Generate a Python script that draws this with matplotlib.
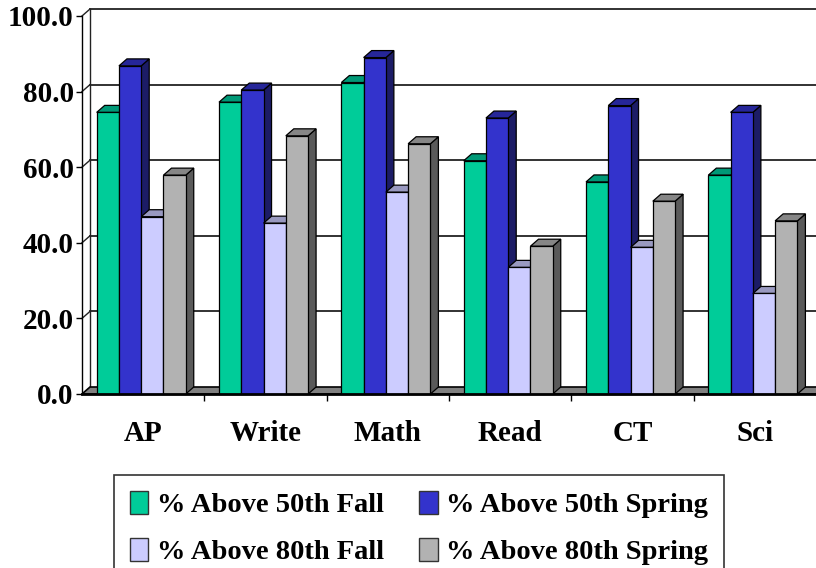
import matplotlib.pyplot as plt
from matplotlib.patches import Polygon, Patch

# datos
categorias = ["AP", "Write", "Math", "Read", "CT", "Sci"]
fall_50 = [74.5, 77.2, 82.4, 61.7, 56.1, 57.9]
spring_50 = [86.8, 80.4, 89.0, 73.0, 76.3, 74.5]
fall_80 = [46.9, 45.2, 53.4, 33.5, 38.8, 26.6]
spring_80 = [57.9, 68.3, 66.2, 39.1, 51.0, 45.8]
series = [fall_50, spring_50, fall_80, spring_80]
nombres = ["% Above 50th Fall", "% Above 50th Spring",
           "% Above 80th Fall", "% Above 80th Spring"]

# colores: frente, arriba, lado
colores = [("#00CC99", "#009977", "#008f6b"),
           ("#3333CC", "#262699", "#1c1c66"),
           ("#CCCCFF", "#9999C0", "#8f8fb2"),
           ("#B2B2B2", "#868686", "#5a5a5a")]

plt.rcParams["font.family"] = ["Liberation Serif", "DejaVu Serif"]
plt.rcParams["font.weight"] = "bold"

fig = plt.figure(figsize=(8.16, 5.68), dpi=100)
ax = fig.add_axes([82 / 816, 174 / 568, 734 / 816, 378 / 568])
ax.set_xlim(-0.5, 5.5)
ax.set_ylim(0, 100)

# profundidad del efecto 3D (en unidades de datos)
dx = 8 / 122.3
dy = 7 / 3.78

# pared del fondo y lateral con lineas de cuadricula
for v in range(20, 101, 20):
    ax.plot([-0.5 + dx, 5.5 + dx], [v + dy, v + dy], color="#222222", lw=1.3,
            clip_on=False, zorder=1)
    ax.plot([-0.5, -0.5 + dx], [v, v + dy], color="#222222", lw=1.0,
            clip_on=False, zorder=1)
ax.plot([-0.5 + dx, -0.5 + dx], [dy, 100 + dy], color="#222222", lw=1.0,
        clip_on=False, zorder=1)

# piso gris
piso = Polygon([(-0.5, 0), (5.5, 0), (5.5 + dx, dy), (-0.5 + dx, dy)],
               closed=True, facecolor="#808080", edgecolor="black", lw=1.2,
               clip_on=False, zorder=2)
ax.add_patch(piso)

# barras con caras frontal, superior y lateral
ancho = 0.182
margen = 0.12
z = 3
for i in range(len(categorias)):
    for k, datos in enumerate(series):
        h = datos[i]
        x0 = i - 0.5 + margen + k * ancho
        x1 = x0 + ancho
        frente, arriba, lado = colores[k]
        cara_lado = Polygon([(x1, 0), (x1 + dx, dy), (x1 + dx, h + dy), (x1, h)],
                            closed=True, facecolor=lado, edgecolor="black",
                            lw=0.9, clip_on=False, zorder=z)
        cara_arriba = Polygon([(x0, h), (x1, h), (x1 + dx, h + dy), (x0 + dx, h + dy)],
                              closed=True, facecolor=arriba, edgecolor="black",
                              lw=0.9, clip_on=False, zorder=z)
        cara_frente = Polygon([(x0, 0), (x1, 0), (x1, h), (x0, h)],
                              closed=True, facecolor=frente, edgecolor="black",
                              lw=0.9, clip_on=False, zorder=z + 1)
        ax.add_patch(cara_lado)
        ax.add_patch(cara_arriba)
        ax.add_patch(cara_frente)
        z += 2

# ejes
for s in ["top", "right"]:
    ax.spines[s].set_visible(False)
ax.spines["left"].set_color("black")
ax.spines["left"].set_linewidth(1.0)
ax.spines["bottom"].set_color("black")
ax.spines["bottom"].set_linewidth(2.0)
ax.spines["bottom"].set_zorder(100)

ax.set_yticks(range(0, 101, 20))
ax.set_yticklabels([f"{v:.1f}" for v in range(0, 101, 20)])
ax.tick_params(axis="y", length=4, width=1, pad=2, labelsize=21)

ax.set_xticks(range(len(categorias)))
ax.set_xticklabels(categorias)
ax.set_xticks([i + 0.5 for i in range(len(categorias) - 1)], minor=True)
ax.tick_params(axis="x", which="major", length=0, pad=19, labelsize=21)
ax.tick_params(axis="x", which="minor", length=5, width=1)

# leyenda (ordenada por filas)
orden = [0, 2, 1, 3]
handles = [Patch(facecolor=colores[k][0], edgecolor="#333333", lw=1) for k in orden]
etiquetas = [nombres[k] for k in orden]
leg = fig.legend(handles, etiquetas, ncol=2, loc="upper left",
                 bbox_to_anchor=(114 / 816, 1 - 475 / 568), borderaxespad=0,
                 fancybox=False, edgecolor="#333333", framealpha=1,
                 fontsize=20.5, handlelength=0.65, handleheight=0.9,
                 handletextpad=0.3, columnspacing=1.25, labelspacing=0.68,
                 borderpad=0.55)
leg.get_frame().set_linewidth(1.2)

fig.savefig("out.png", dpi=100)
